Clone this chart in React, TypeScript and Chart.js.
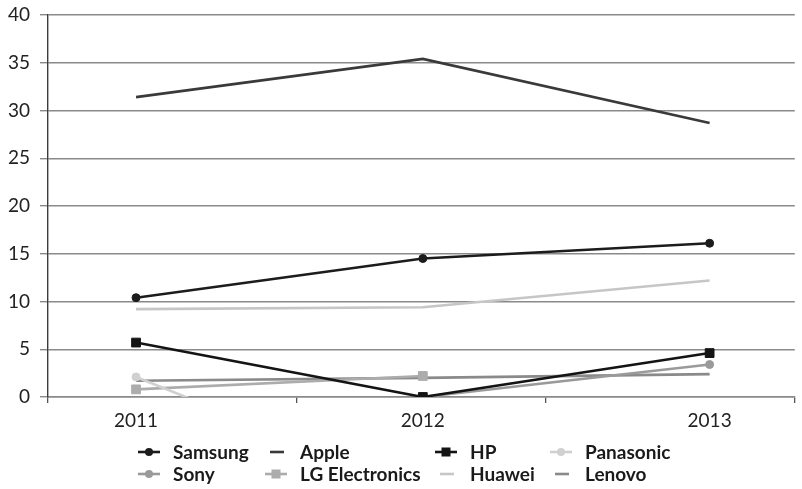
import { useEffect, useRef } from "react";
import { Chart, registerables } from "chart.js";

Chart.register(...registerables);

// Years on the horizontal axis
const years = ["2011", "2012", "2013"];

// Series values per year (null = no value)
const samsung = [10.4, 14.5, 16.1];
const apple = [31.4, 35.4, 28.7];
const hp = [5.7, 0, 4.6];
const panasonic = [2.1, -10, null];
const sony = [null, 0, 3.4];
const lgElectronics = [0.8, 2.2, null];
const huawei = [9.2, 9.4, 12.2];
const lenovo = [1.7, 2.0, 2.4];

// Value axis range
const yMin = 0;
const yMax = 40;
const yStep = 5;

const FONT = "Lato, 'Open Sans', sans-serif";

type Series = {
  name: string;
  values: (number | null)[];
  color: string;
  marker: "circle" | "rect" | null;
};

const series: Series[] = [
  { name: "Samsung", values: samsung, color: "#1c1c1c", marker: "circle" },
  { name: "Apple", values: apple, color: "#3a3a3a", marker: null },
  { name: "HP", values: hp, color: "#141414", marker: "rect" },
  { name: "Panasonic", values: panasonic, color: "#d0d0d0", marker: "circle" },
  { name: "Sony", values: sony, color: "#9a9a9a", marker: "circle" },
  { name: "LG Electronics", values: lgElectronics, color: "#acacac", marker: "rect" },
  { name: "Huawei", values: huawei, color: "#c6c6c6", marker: null },
  { name: "Lenovo", values: lenovo, color: "#8a8a8a", marker: null },
];

// Legend grid: 4 columns, 2 rows
const legendCols = [173, 300, 470, 585];
const legendRows = [440, 461.5];

function LegendMarker({ s }: { s: Series }) {
  const full = s.marker !== null;
  return (
    <svg width={24} height={14} style={{ position: "absolute", left: -36, top: 5 }}>
      <line
        x1={full ? 1 : 6}
        x2={full ? 23 : 20}
        y1={7}
        y2={7}
        stroke={s.color}
        strokeWidth={2.6}
      />
      {s.marker === "circle" && <circle cx={12} cy={7} r={4} fill={s.color} />}
      {s.marker === "rect" && <rect x={7.5} y={2.5} width={9} height={9} fill={s.color} />}
    </svg>
  );
}

export default function App() {
  const ref = useRef<HTMLCanvasElement>(null);

  useEffect(() => {
    if (!ref.current) return;
    const tickFont = { family: FONT, size: 19 };
    const chart = new Chart(ref.current, {
      type: "line",
      data: {
        labels: years,
        datasets: series.map((s) => ({
          label: s.name,
          data: s.values.map((v, i) => ({ x: i, y: v })) as any,
          borderColor: s.color,
          backgroundColor: s.color,
          borderWidth: 2.6,
          pointStyle: s.marker ?? "circle",
          pointRadius: s.marker === "rect" ? 6.2 : s.marker === "circle" ? 4 : 0,
          pointBorderWidth: 1,
          pointHoverRadius: 0,
          spanGaps: false,
          tension: 0,
          xAxisID: "x",
          yAxisID: "y",
        })),
      },
      options: {
        responsive: false,
        animation: false,
        events: [],
        layout: { padding: { top: 15, bottom: 42, left: 0, right: 0 } },
        plugins: { legend: { display: false }, tooltip: { enabled: false } },
        scales: {
          x: {
            type: "linear",
            position: "bottom",
            weight: 1,
            min: -0.307,
            max: 2.297,
            afterBuildTicks: (s: any) => {
              s.ticks = years.map((_, i) => ({ value: i }));
            },
            afterFit: (s: any) => {
              s.height = 44;
              s.paddingLeft = 0;
              s.paddingRight = 0;
            },
            ticks: {
              font: tickFont,
              color: "#222",
              padding: 6,
              autoSkip: false,
              maxRotation: 0,
              callback: (v: any) => years[v as number] ?? "",
            },
            grid: { display: false, drawTicks: false },
            border: { display: false },
          },
          xb: {
            type: "category",
            position: "bottom",
            weight: 0,
            labels: years,
            offset: true,
            afterFit: (s: any) => {
              s.height = 6;
              s.paddingLeft = 0;
              s.paddingRight = 0;
            },
            ticks: { display: false },
            grid: {
              offset: true,
              drawOnChartArea: false,
              tickLength: 6,
              color: "#555",
              lineWidth: 1.3,
            },
            border: { display: true, color: "#8a8a8a", width: 1.4 },
          },
          y: {
            min: yMin,
            max: yMax,
            afterFit: (s: any) => {
              s.width = 48;
              s.paddingTop = 0;
              s.paddingBottom = 0;
            },
            ticks: { stepSize: yStep, font: tickFont, color: "#222", padding: 10 },
            grid: { color: "#8a8a8a", lineWidth: 1.4, tickLength: 8 },
            border: { color: "#3c3c3c", width: 1.4 },
          },
        },
      } as any,
    });
    return () => chart.destroy();
  }, []);

  return (
    <div
      style={{
        position: "fixed",
        left: 0,
        top: 0,
        width: 802,
        height: 489,
        background: "#fff",
        overflow: "hidden",
      }}
    >
      <canvas ref={ref} width={802} height={489} style={{ display: "block" }} />
      {series.map((s, i) => {
        const col = [0, 1, 2, 3, 0, 1, 2, 3][i];
        const row = i < 4 ? 0 : 1;
        return (
          <div
            key={s.name}
            style={{
              position: "absolute",
              left: legendCols[col],
              top: legendRows[row],
              fontFamily: FONT,
              fontWeight: 700,
              fontSize: 19,
              lineHeight: "23px",
              color: "#1a1a1a",
              whiteSpace: "nowrap",
            }}
          >
            <LegendMarker s={s} />
            {s.name}
          </div>
        );
      })}
    </div>
  );
}
